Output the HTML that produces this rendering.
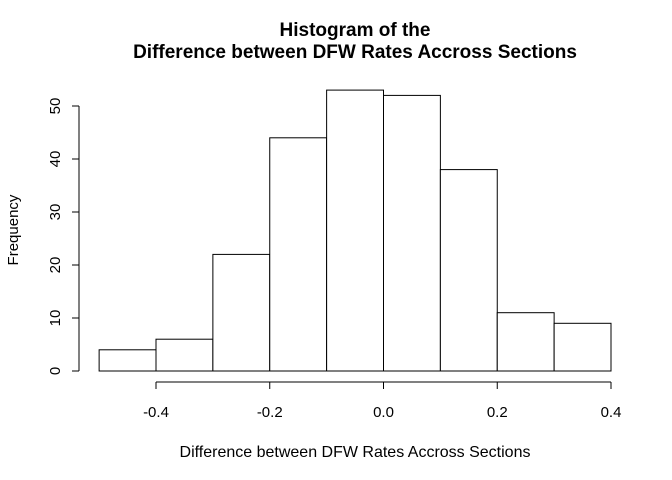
<!DOCTYPE html>
<html><head><meta charset="utf-8"><style>body{margin:0;background:#fff}svg{display:block;font-family:"Liberation Sans",Arial,sans-serif}</style></head>
<body>
<svg id="chart" width="672" height="480" viewBox="0 0 672 480">
<text x="355" y="36" text-anchor="middle" font-size="19" font-weight="bold">Histogram of the</text>
<text x="355" y="58" text-anchor="middle" font-size="19" font-weight="bold">Difference between DFW Rates Accross Sections</text>
<text x="355" y="457" text-anchor="middle" font-size="16">Difference between DFW Rates Accross Sections</text>
<text transform="translate(18,230) rotate(-90)" text-anchor="middle" font-size="15">Frequency</text>
<g id="bars"></g><g id="axes"></g>
</svg>
<script>
const binEdges=[-0.5,-0.4,-0.3,-0.2,-0.1,0.0,0.1,0.2,0.3,0.4];
const counts=[4,6,22,44,53,52,38,11,9];
const xTicks=[-0.4,-0.2,0.0,0.2,0.4];
const xTickLabels=["-0.4","-0.2","0.0","0.2","0.4"];
const yTicks=[0,10,20,30,40,50];
const NS="http://www.w3.org/2000/svg";
function xs(v){return 156+(v+0.4)*(611-156)/0.8;}
function ys(v){return 371-v*(371-106)/50;}
function mk(t,a,p){const e=document.createElementNS(NS,t);for(const k in a)e.setAttribute(k,a[k]);p.appendChild(e);return e;}
const bars=document.getElementById('bars'),axes=document.getElementById('axes');
counts.forEach((c,i)=>{const x0=xs(binEdges[i]),x1=xs(binEdges[i+1]);
const r=mk('rect',{x:x0,y:ys(c),width:x1-x0,height:ys(0)-ys(c),fill:'#fff',stroke:'#000','stroke-width':1},bars);

});
const xl=mk('line',{x1:xs(xTicks[0]),x2:xs(xTicks[xTicks.length-1]),y1:382,y2:382,stroke:'#000'},axes);


xTicks.forEach((t,i)=>{mk('line',{x1:xs(t),x2:xs(t),y1:382,y2:389,stroke:'#000'},axes);
const tx=mk('text',{x:xs(t),y:417,'text-anchor':'middle','font-size':15},axes);tx.textContent=xTickLabels[i];

});
const yl=mk('line',{x1:79,x2:79,y1:ys(yTicks[0]),y2:ys(yTicks[yTicks.length-1]),stroke:'#000'},axes);


yTicks.forEach(t=>{mk('line',{x1:72,x2:79,y1:ys(t),y2:ys(t),stroke:'#000'},axes);
const tx=mk('text',{transform:'translate(60,'+ys(t)+') rotate(-90)','text-anchor':'middle','font-size':15},axes);tx.textContent=t;

});
</script>
</body></html>
